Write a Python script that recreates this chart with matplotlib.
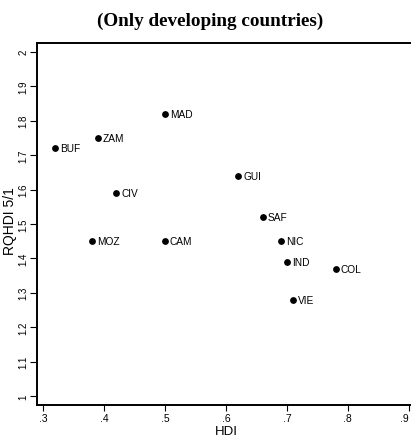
import matplotlib.pyplot as plt

countries = ["BUF", "ZAM", "MAD", "CIV", "MOZ", "CAM", "GUI", "SAF", "NIC", "IND", "COL", "VIE"]
hdi = [0.32, 0.39, 0.50, 0.42, 0.38, 0.50, 0.62, 0.66, 0.69, 0.70, 0.78, 0.71]
rqhdi = [1.72, 1.75, 1.82, 1.59, 1.45, 1.45, 1.64, 1.52, 1.45, 1.39, 1.37, 1.28]

x_ticks = [0.3, 0.4, 0.5, 0.6, 0.7, 0.8, 0.9]
x_labels = [".3", ".4", ".5", ".6", ".7", ".8", ".9"]
y_ticks = [1.0, 1.1, 1.2, 1.3, 1.4, 1.5, 1.6, 1.7, 1.8, 1.9, 2.0]
y_labels = ["1", "1.1", "1.2", "1.3", "1.4", "1.5", "1.6", "1.7", "1.8", "1.9", "2"]

narrow = ["Liberation Sans Narrow", "Liberation Sans", "DejaVu Sans"]
sans = ["Liberation Sans", "DejaVu Sans"]

fig = plt.figure(figsize=(4.11, 4.39), dpi=100)
# axes runs a little past the right edge, like the scanned original
ax = fig.add_axes([37 / 411, 33 / 439, 377.8 / 411, 362 / 439])

ax.scatter(hdi, rqhdi, s=15, color="black", zorder=3)
for name, x, y in zip(countries, hdi, rqhdi):
    ax.annotate(name, (x, y), xytext=(3.5, 0), textcoords="offset points",
                va="center", ha="left", fontsize=7.3, family=narrow)

ax.set_xlim(0.2897, 0.91)
ax.set_ylim(0.974, 2.0256)
ax.set_xticks(x_ticks)
ax.set_xticklabels(x_labels, family=narrow, fontsize=7.5)
ax.get_xticklabels()[-1].set_ha("right")
ax.set_yticks(y_ticks)
ax.set_yticklabels(y_labels, family=sans, fontsize=7, rotation=90, va="center")
ax.tick_params(axis="x", direction="out", length=4, width=0.8, pad=2)
ax.tick_params(axis="y", direction="out", length=5, width=0.8, pad=1)

for sp in ax.spines.values():
    sp.set_linewidth(1.4)

ax.set_xlabel("HDI", family=narrow, fontsize=9.5, labelpad=1)
ax.set_ylabel("RQHDI 5/1", family=sans, fontsize=10)
ax.yaxis.set_label_coords(-0.052, 0.511)

fig.text(0.511, 0.952, "(Only developing countries)", family="Liberation Serif",
         fontsize=13.8, fontweight="bold", ha="center", va="center")

fig.savefig("out.png", dpi=100)
